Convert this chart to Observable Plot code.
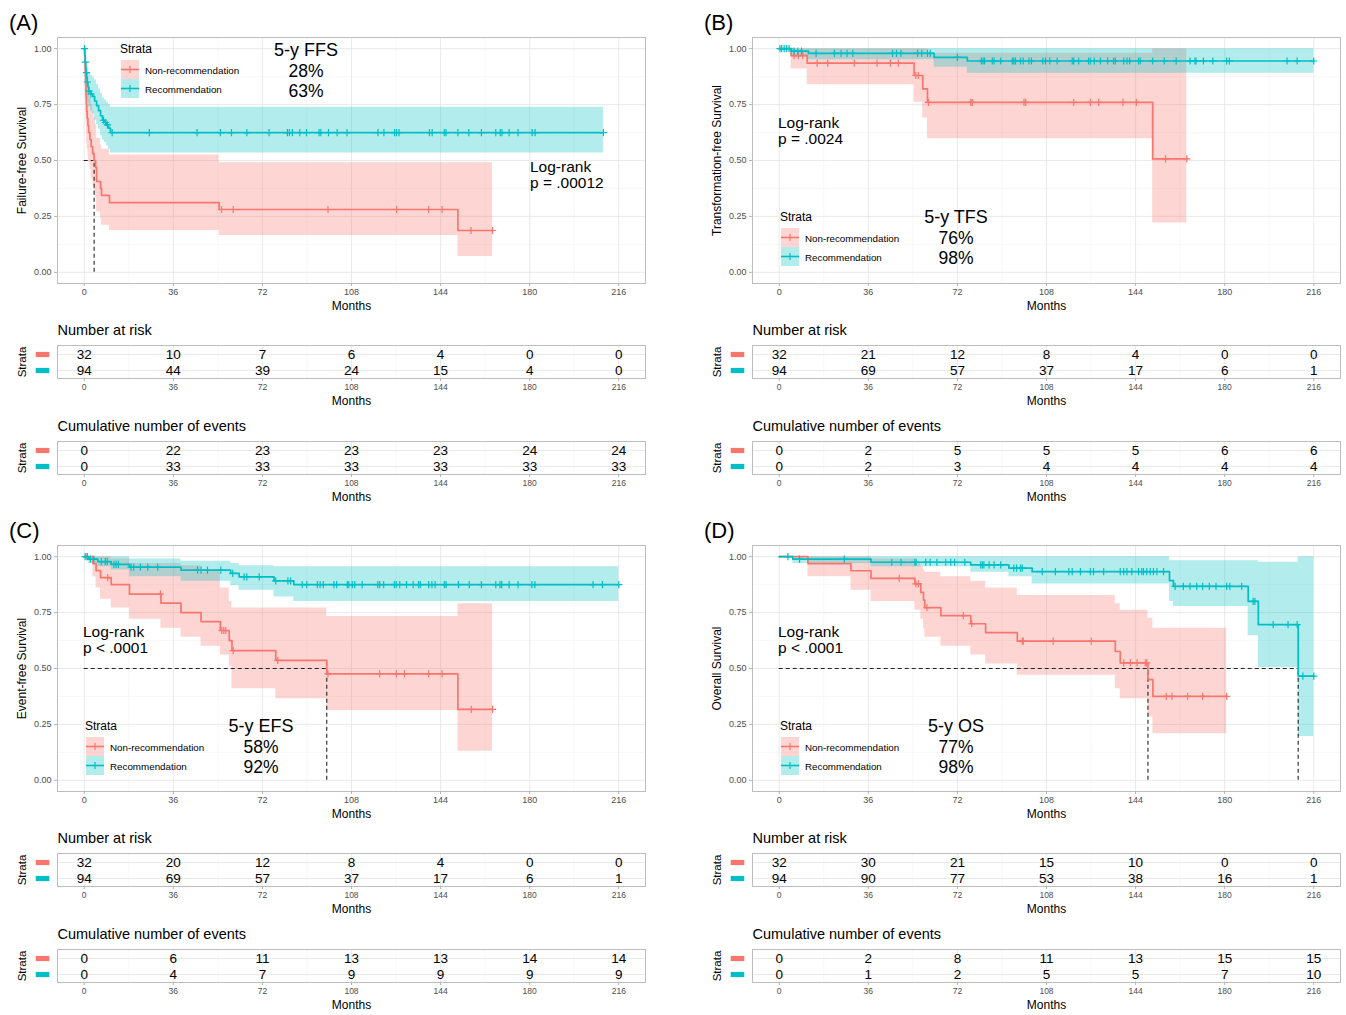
<!DOCTYPE html>
<html><head><meta charset="utf-8">
<script src="https://cdn.jsdelivr.net/npm/d3@7"></script>
<script src="https://cdn.jsdelivr.net/npm/@observablehq/plot@0.6"></script>
<style>
body{margin:0;background:#fff;}
#root{position:relative;width:1346px;height:1015px;font-family:"Liberation Sans",Arial,sans-serif;overflow:hidden;background:#fff;}
#root > svg{position:absolute;overflow:visible;}
.t{position:absolute;white-space:nowrap;line-height:0.9;color:#000;}
.k{position:absolute;}
</style></head><body><div id="root"></div><script>
// ---------- shared axis values ----------
const months = [0, 36, 72, 108, 144, 180, 216];
const minorMonths = [18, 54, 90, 126, 162, 198];
const survTicks = [0, 0.25, 0.5, 0.75, 1];
const minorSurv = [0.125, 0.375, 0.625, 0.875];
const strata = ["Non-recommendation", "Recommendation"];
const strataColors = ["#F8766D", "#00BFC4"];

// ---------- (A) Failure-free survival: [month, survival, lower CI, upper CI] ----------
const ffsNonrec = [[0,1,1,1],[0.2,0.969,0.91,1],[0.3,0.938,0.86,1],[0.4,0.906,0.81,1],[0.5,0.875,0.77,0.99],[0.6,0.844,0.73,0.97],[0.7,0.812,0.69,0.95],[0.8,0.781,0.65,0.93],[0.9,0.75,0.62,0.91],[1.0,0.719,0.58,0.89],[1.2,0.688,0.55,0.86],[1.5,0.656,0.52,0.84],[1.8,0.625,0.49,0.81],[2.3,0.594,0.46,0.78],[2.8,0.562,0.42,0.75],[3.4,0.531,0.39,0.72],[4.0,0.5,0.36,0.69],[4.6,0.469,0.33,0.66],[5.0,0.406,0.27,0.6],[6.6,0.375,0.24,0.57],[7.0,0.344,0.21,0.55],[10.2,0.312,0.1875,0.525],[54.5,0.281,0.165,0.49],[151,0.187,0.071,0.49]];
const ffsNonrecEnd = 165;
const ffsNonrecCens = [55.5,60.2,98.5,126.2,139.2,144.6,156.3,165];
const ffsRec = [[0,1,1,1],[0.2,0.97,0.94,1],[0.4,0.94,0.9,0.99],[0.6,0.915,0.86,0.97],[0.8,0.893,0.83,0.96],[1.0,0.872,0.81,0.94],[1.2,0.851,0.78,0.92],[1.5,0.83,0.76,0.91],[1.8,0.81,0.74,0.89],[2.6,0.798,0.72,0.88],[3.4,0.787,0.71,0.87],[4.2,0.766,0.68,0.86],[5.0,0.745,0.66,0.84],[5.8,0.723,0.64,0.82],[6.6,0.70,0.61,0.80],[7.4,0.68,0.59,0.78],[8.2,0.67,0.58,0.77],[9.0,0.659,0.565,0.76],[9.8,0.645,0.55,0.75],[10.6,0.625,0.533,0.738]];
const ffsRecEnd = 209.8;
const ffsRecCens = [0.1,0.5,0.9,1.3,1.9,2.7,7.8,8.6,9.4,11.3,26.3,45.6,55,59.5,65.7,74.7,82.1,82.9,84.1,87.1,89.8,94.9,95.6,98.7,102.2,106.2,118.7,121.1,125.4,126.2,127.2,139.5,140.6,145.5,146.2,151,155.4,160.5,166.3,168.1,168.8,171.7,175.3,181,182.2,209.8];
const ffsMedians = [4.0];
const ffsRiskNonrec = [32,10,7,6,4,0,0];
const ffsRiskRec = [94,44,39,24,15,4,0];
const ffsEventsNonrec = [0,22,23,23,23,24,24];
const ffsEventsRec = [0,33,33,33,33,33,33];

// ---------- (B) Transformation-free survival ----------
const tfsNonrec = [[0,1,1,1],[4.8,0.969,0.909,1],[11.3,0.935,0.839,1],[54.5,0.88,0.76,1],[58.0,0.82,0.69,1],[59.9,0.76,0.597,0.98],[150.9,0.507,0.22,1]];
const tfsNonrecEnd = 164.7;
const tfsNonrecCens = [6.0,7.7,9.5,15.3,19.6,30.3,39.5,44.9,48.1,55.2,56.2,60.3,77.4,78,98.9,99.6,119,125.7,129.1,138.9,144.3,156.1,164.7];
const tfsRec = [[0,1,1,1],[4.8,0.989,0.97,1],[11.8,0.979,0.95,1],[62.6,0.961,0.917,1],[76,0.945,0.89,1]];
const tfsRecEnd = 216;
const tfsRecCens = [0.3,1.0,2.0,3.0,4.0,6.0,7.5,9.0,14.9,22.3,25,27.4,29.7,45.8,47.4,49.2,55.9,57.6,59.9,61,72,81.7,82.4,83,86.1,86.8,89.5,94.2,94.8,95.5,97.5,98.6,100.9,101.9,106.5,107.6,109.3,112.3,118.4,119,121,125,125.7,127.3,129.8,132.7,135.1,135.8,139.2,140.5,141.6,145.2,145.9,150.9,155.6,160.4,166,168,168.4,171.4,175.2,180.8,181.9,205.2,209.3,216];
const tfsMedians = [];
const tfsRiskNonrec = [32,21,12,8,4,0,0];
const tfsRiskRec = [94,69,57,37,17,6,1];
const tfsEventsNonrec = [0,2,5,5,5,6,6];
const tfsEventsRec = [0,2,3,4,4,4,4];

// ---------- (C) Event-free survival ----------
const efsNonrec = [[0,1,1,1],[3.5,0.969,0.91,1],[4.8,0.938,0.86,1],[6.6,0.906,0.81,1],[10.9,0.875,0.77,0.99],[18.3,0.833,0.72,0.97],[31,0.792,0.68,0.97],[39.1,0.75,0.64,0.96],[47.2,0.71,0.6,0.94],[55,0.67,0.56,0.86],[58.6,0.625,0.51,0.80],[59.7,0.58,0.41,0.77],[77.4,0.536,0.365,0.77],[98,0.476,0.3125,0.732],[151,0.317,0.13,0.79]];
const efsNonrecEnd = 165;
const efsNonrecCens = [1.2,9.5,30.8,55.6,56.4,57.2,60.2,78.2,98.5,119.4,126.1,129.4,139.2,144.6,156.4,165];
const efsRec = [[0,1,1,1],[1.7,0.989,0.97,1],[5.5,0.978,0.955,1],[10.9,0.966,0.94,1],[18.3,0.953,0.91,0.99],[39.1,0.94,0.89,0.98],[59.2,0.925,0.87,0.97],[62.6,0.91,0.85,0.96],[76.7,0.892,0.82,0.955],[84.7,0.875,0.80,0.955]];
const efsRecEnd = 216;
const efsRecCens = [0.4,1.2,2.5,3.9,6.9,8.5,9.3,12,12.9,13.8,18.9,20,22.7,25.7,29.7,45.8,47.2,49.8,55.2,60,64.6,65.7,70.7,77.4,82.3,83.4,88.1,89.9,94.2,95.3,96.6,100.9,102,106.3,106.9,108.3,109.3,112.3,118.6,119.4,121,125.3,126.1,127.5,130.2,132.9,135.1,135.8,139.2,140.5,141.8,145.5,146.2,151.2,155.6,160.5,166.3,168,168.7,171.7,175.3,180.9,182.1,205.6,209.4,216];
const efsMedians = [98];
const efsRiskNonrec = [32,20,12,8,4,0,0];
const efsRiskRec = [94,69,57,37,17,6,1];
const efsEventsNonrec = [0,6,11,13,13,14,14];
const efsEventsRec = [0,4,7,9,9,9,9];

// ---------- (D) Overall survival ----------
const osNonrec = [[0,1,1,1],[11.6,0.969,0.91,1],[29,0.937,0.85,1],[37.1,0.903,0.80,0.99],[54.8,0.878,0.76,0.97],[57.2,0.84,0.72,0.955],[58.3,0.806,0.68,0.94],[58.8,0.772,0.64,0.93],[65.3,0.736,0.60,0.91],[77.4,0.70,0.56,0.89],[83.4,0.66,0.52,0.86],[96.2,0.622,0.47,0.826],[135.8,0.576,0.41,0.79],[137.8,0.525,0.365,0.76],[149,0.45,0.283,0.725],[151,0.375,0.208,0.68]];
const osNonrecEnd = 180.8;
const osNonrecCens = [48.5,55.2,56.2,59.7,74.4,77.8,98.2,98.6,110.7,126.1,139.2,141.9,144.6,147.9,148.5,156.4,158.7,165,171.1,180.8];
const osRec = [[0,1,1,1],[5.5,0.989,0.97,1],[37.1,0.975,0.955,1],[77.4,0.963,0.93,1],[92.8,0.949,0.91,1],[102.2,0.933,0.878,1],[157.7,0.893,0.80,0.982],[159.3,0.867,0.777,0.982],[189.5,0.80,0.647,0.982],[193.6,0.696,0.505,0.975],[209.7,0.466,0.196,1]];
const osRecEnd = 216;
const osRecCens = [3.5,8.2,26.3,45.5,49.2,54.8,55.3,59.2,61,63.7,67.3,69.3,70.9,75,81.4,82.1,82.7,84.8,86.8,89.5,94.8,95.9,97.5,98.2,106.3,111.6,117,118.4,121.7,125.7,127,131.1,137.8,139.2,140.5,142.5,145.2,146.5,147.2,148.5,149.9,151.2,152.6,155.3,160,163.3,166,168.7,171.1,173.8,176.5,180.8,182.1,186.9,191.5,192.2,199.6,205.6,209.3,211.6,216];
const osMedians = [149, 209.7];
const osRiskNonrec = [32,30,21,15,10,0,0];
const osRiskRec = [94,90,77,53,38,16,1];
const osEventsNonrec = [0,2,8,11,13,15,15];
const osEventsRec = [0,1,2,5,5,7,10];

// ---------- panel options built from the arrays ----------
const panels = [
  {label:"(A)", ox:0, oy:0, ytitle:"Failure-free Survival",
   curves:[{steps:ffsNonrec,end:ffsNonrecEnd,cens:ffsNonrecCens},{steps:ffsRec,end:ffsRecEnd,cens:ffsRecCens}],
   medians:ffsMedians, risk:[ffsRiskNonrec,ffsRiskRec], events:[ffsEventsNonrec,ffsEventsRec],
   legend:{x:120,y:49}, five:{x:306,y:50,title:"5-y FFS",vals:["28%","63%"]}, logrank:{x:530,y:167,p:"p = .00012"}},
  {label:"(B)", ox:695, oy:0, ytitle:"Transformation-free Survival",
   curves:[{steps:tfsNonrec,end:tfsNonrecEnd,cens:tfsNonrecCens},{steps:tfsRec,end:tfsRecEnd,cens:tfsRecCens}],
   medians:tfsMedians, risk:[tfsRiskNonrec,tfsRiskRec], events:[tfsEventsNonrec,tfsEventsRec],
   legend:{x:85,y:217}, five:{x:261,y:217,title:"5-y TFS",vals:["76%","98%"]}, logrank:{x:83,y:123,p:"p = .0024"}},
  {label:"(C)", ox:0, oy:508, ytitle:"Event-free Survival",
   curves:[{steps:efsNonrec,end:efsNonrecEnd,cens:efsNonrecCens},{steps:efsRec,end:efsRecEnd,cens:efsRecCens}],
   medians:efsMedians, risk:[efsRiskNonrec,efsRiskRec], events:[efsEventsNonrec,efsEventsRec],
   legend:{x:85,y:218}, five:{x:261,y:218,title:"5-y EFS",vals:["58%","92%"]}, logrank:{x:83,y:124,p:"p < .0001"}},
  {label:"(D)", ox:695, oy:508, ytitle:"Overall Survival",
   curves:[{steps:osNonrec,end:osNonrecEnd,cens:osNonrecCens},{steps:osRec,end:osRecEnd,cens:osRecCens}],
   medians:osMedians, risk:[osRiskNonrec,osRiskRec], events:[osEventsNonrec,osEventsRec],
   legend:{x:85,y:218}, five:{x:261,y:218,title:"5-y OS",vals:["77%","98%"]}, logrank:{x:83,y:124,p:"p < .0001"}}
];

const root = document.getElementById("root");
const FONT = "Liberation Sans, Arial, sans-serif";
const XDOM = [-10.8, 226.8];
const gridMajor = "#E4E4E4", gridMinor = "#F2F2F2", borderCol = "#BDBDBD", tickCol = "#B3B3B3", tickText = "#4D4D4D";

const plusSym = {draw(ctx){ctx.moveTo(-3.6,0);ctx.lineTo(3.6,0);ctx.moveTo(0,-3.6);ctx.lineTo(0,3.6);}};
const barSym = {draw(ctx){ctx.rect(-6.8,-2.6,13.6,5.2);}};

function withEnd(c){ const last = c.steps[c.steps.length-1]; return [...c.steps, [c.end, last[1], last[2], last[3]]]; }
function survAt(steps, t){ let s = steps[0][1]; for (const r of steps) if (r[0] <= t) s = r[1]; return s; }
function place(el, x, y){ el.style.left = x+"px"; el.style.top = y+"px"; root.appendChild(el); }
function addText(txt, x, y, size, center){
  const d = document.createElement("div"); d.className = "t"; d.textContent = txt;
  d.style.fontSize = size+"px"; d.style.transform = center ? "translate(-50%,-50%)" : "translate(0,-50%)";
  place(d, x, y);
}

function kmPlot(p){
  const marks = [
    Plot.ruleX(minorMonths,{stroke:gridMinor,strokeWidth:0.6}),
    Plot.ruleY(minorSurv,{stroke:gridMinor,strokeWidth:0.6}),
    Plot.ruleX(months,{stroke:gridMajor,strokeWidth:0.8}),
    Plot.ruleY(survTicks,{stroke:gridMajor,strokeWidth:0.8})
  ];
  p.curves.forEach((c,i)=>marks.push(Plot.areaY(withEnd(c),{x:d=>d[0],y1:d=>d[2],y2:d=>d[3],curve:"step-after",fill:strataColors[i],fillOpacity:0.3})));
  if (p.medians.length){
    marks.push(Plot.ruleY([0.5],{x1:0,x2:d3.max(p.medians),stroke:"#222",strokeWidth:1.1,strokeDasharray:"4,3"}));
    marks.push(Plot.ruleX(p.medians,{y1:0,y2:0.5,stroke:"#222",strokeWidth:1.1,strokeDasharray:"4,3"}));
  }
  p.curves.forEach((c,i)=>{
    marks.push(Plot.line(withEnd(c),{x:d=>d[0],y:d=>d[1],curve:"step-after",stroke:strataColors[i],strokeWidth:1.7}));
    marks.push(Plot.dot(c.cens,{x:d=>d,y:d=>survAt(c.steps,d),symbol:plusSym,fill:"none",stroke:strataColors[i],strokeWidth:1.2}));
  });
  marks.push(Plot.frame({stroke:borderCol,strokeWidth:1}));
  marks.push(Plot.axisX({ticks:months,tickSize:3,tickPadding:2,stroke:tickCol,fill:tickText,fontSize:9,label:null}));
  marks.push(Plot.axisY({ticks:survTicks,tickFormat:d3.format(".2f"),tickSize:3,tickPadding:3,stroke:tickCol,fill:tickText,fontSize:9,label:null}));
  marks.push(Plot.text(["Months"],{text:d=>d,frameAnchor:"bottom",lineAnchor:"middle",textAnchor:"middle",dy:23,fontSize:12,fill:"#000"}));
  marks.push(Plot.text([p.ytitle],{text:d=>d,frameAnchor:"left",lineAnchor:"middle",textAnchor:"middle",dx:-35,rotate:-90,fontSize:12,fill:"#000"}));
  const svg = Plot.plot({
    width:660, height:315, marginLeft:57, marginRight:15, marginTop:37, marginBottom:32,
    x:{domain:XDOM, axis:null}, y:{domain:[-0.05,1.05], axis:null},
    style:{fontFamily:FONT, background:"transparent"},
    marks
  });
  place(svg, p.ox, p.oy);
}

function tablePlot(p, title, values, top){
  const rows = [];
  strata.forEach((s,i)=>months.forEach((m,j)=>rows.push({strata:s, month:m, n:values[i][j]})));
  const marks = [
    Plot.ruleX(minorMonths,{stroke:gridMinor,strokeWidth:0.6}),
    Plot.ruleX(months,{stroke:gridMajor,strokeWidth:0.8}),
    Plot.ruleY(strata,{y:d=>d,stroke:gridMajor,strokeWidth:0.8}),
    Plot.frame({stroke:borderCol,strokeWidth:1}),
    Plot.text(rows,{x:"month",y:"strata",text:"n",fontSize:13.5,fill:"#000"}),
    Plot.axisX({ticks:months,tickSize:3,tickPadding:2,stroke:tickCol,fill:tickText,fontSize:8.5,label:null}),
    Plot.text([title],{text:d=>d,frameAnchor:"top-left",lineAnchor:"middle",textAnchor:"start",dy:-15,fontSize:14.5,fill:"#000"}),
    Plot.text(["Months"],{text:d=>d,frameAnchor:"bottom",lineAnchor:"middle",textAnchor:"middle",dy:22.5,fontSize:12,fill:"#000"}),
    Plot.text(["Strata"],{text:d=>d,frameAnchor:"left",lineAnchor:"middle",textAnchor:"middle",dx:-35,rotate:-90,fontSize:11.5,fill:"#000"})
  ];
  strata.forEach((s,i)=>marks.push(Plot.dot([s],{y:d=>d,frameAnchor:"left",dx:-15,symbol:barSym,fill:strataColors[i],stroke:"none"})));
  const svg = Plot.plot({
    width:660, height:90, marginLeft:57, marginRight:15, marginTop:25, marginBottom:32,
    x:{domain:XDOM, axis:null}, y:{type:"point", domain:strata, padding:0.5, axis:null},
    style:{fontFamily:FONT, background:"transparent"},
    marks
  });
  place(svg, p.ox, p.oy + top);
}

function overlays(p){
  const ox = p.ox, oy = p.oy;
  addText(p.label, ox+9, oy+23, 22, false);
  const L = p.legend;
  addText("Strata", ox+L.x, oy+L.y, 12, false);
  strata.forEach((s,i)=>{
    const k = document.createElementNS("http://www.w3.org/2000/svg","svg");
    k.setAttribute("width","18"); k.setAttribute("height","19"); k.setAttribute("class","k");
    k.innerHTML = `<rect x="0" y="0" width="18" height="19" fill="${strataColors[i]}" fill-opacity="0.3"/>`+
      `<line x1="0" x2="18" y1="9.5" y2="9.5" stroke="${strataColors[i]}" stroke-width="1.6"/>`+
      `<line x1="9" x2="9" y1="5.9" y2="13.1" stroke="${strataColors[i]}" stroke-width="1.2"/>`;
    place(k, ox+L.x+0.5, oy+L.y+11+19*i);
    addText(s, ox+L.x+25, oy+L.y+21.5+19*i, 9.8, false);
  });
  const F = p.five;
  addText(F.title, ox+F.x, oy+F.y, 18, true);
  addText(F.vals[0], ox+F.x, oy+F.y+22, 17.5, true);
  addText(F.vals[1], ox+F.x, oy+F.y+41.5, 17.5, true);
  const G = p.logrank;
  addText("Log-rank", ox+G.x, oy+G.y, 15.5, false);
  addText(G.p, ox+G.x, oy+G.y+15.5, 15.5, false);
}

for (const p of panels){
  kmPlot(p);
  tablePlot(p, "Number at risk", p.risk, 320);
  tablePlot(p, "Cumulative number of events", p.events, 416);
  overlays(p);
}
</script></body></html>
